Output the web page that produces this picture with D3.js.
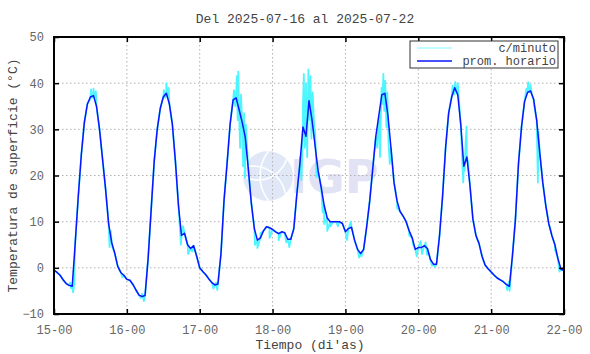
<!DOCTYPE html>
<html>
<head>
<meta charset="utf-8">
<script src="https://cdn.jsdelivr.net/npm/d3@7"></script>
<style>
  body { margin: 0; background: #fff; }
  svg text { font-family: "Liberation Mono", "DejaVu Sans Mono", monospace; }
</style>
</head>
<body>
<div id="chart"></div>
<script>
// Temperatura de superficie, promedio horario (una lista por dia, 24 valores, el ultimo con 22-00)
const dia1 = [-0.5, -1.0, -1.6, -2.6, -3.4, -3.8, -4.0, 5.5, 15.5, 24.5, 31.5, 35.5, 37.0, 37.3, 35.0, 30.0, 23.5, 17.0, 9.5, 5.5, 3.2, 0.3, -1.0, -1.6];
const dia2 = [-2.5, -2.7, -3.6, -4.8, -5.9, -6.2, -6.0, 2.0, 12.5, 23.0, 30.0, 34.5, 37.0, 37.8, 35.5, 31.0, 23.0, 13.5, 7.0, 7.5, 5.0, 4.2, 4.8, 2.5];
const dia3 = [0.0, -0.8, -1.5, -2.4, -3.2, -3.7, -3.5, 3.0, 14.5, 22.5, 31.0, 36.4, 36.8, 34.2, 31.5, 28.3, 21.5, 14.0, 8.5, 6.0, 6.5, 8.0, 8.9, 8.7];
const dia4 = [8.3, 7.8, 7.4, 7.8, 7.6, 6.2, 6.2, 8.5, 16.0, 22.5, 30.5, 28.5, 36.2, 32.0, 26.5, 21.0, 17.5, 13.5, 10.8, 10.0, 10.0, 10.0, 10.0, 9.6];
const dia5 = [7.8, 8.5, 8.8, 6.0, 4.0, 3.1, 4.0, 8.9, 14.5, 21.5, 28.4, 33.0, 37.5, 37.8, 33.0, 26.0, 18.5, 14.5, 12.2, 11.2, 10.0, 8.0, 6.5, 4.0];
const dia6 = [4.4, 4.4, 4.8, 4.2, 1.8, 0.8, 0.8, 7.0, 15.5, 26.0, 33.5, 37.0, 39.0, 37.5, 31.0, 22.0, 24.0, 18.0, 10.5, 7.0, 5.3, 2.5, 0.6, -0.2];
const dia7 = [-0.9, -1.6, -2.2, -2.6, -3.0, -3.6, -4.0, 2.5, 10.5, 22.5, 30.5, 36.0, 38.0, 38.3, 36.5, 32.0, 25.0, 18.5, 13.5, 9.5, 7.0, 5.0, 2.0, -0.3, -0.6];

// c/minuto: variaciones leidas por encima/debajo del promedio, [hora desde 15-00, valor]
const minutoExtra = [
  [5.3, -3.2], [5.6, -4.4], [6.0, -3.6], [6.3, -5.3], [6.6, -3.8],
  [11.8, 36.4], [12.2, 38.6], [12.6, 36.8], [13.0, 38.8], [13.4, 37.0], [13.8, 38.2],
  [18.3, 4.5], [18.7, 8.0], [19.2, 4.5], [22.5, -2.0],
  [28.5, -6.5], [29.0, -5.6], [29.6, -7.2], [30.0, -6.0],
  [36.2, 38.5], [36.6, 36.8], [37.0, 40.0], [37.4, 37.0], [37.8, 39.0],
  [41.8, 5.0], [42.5, 9.0], [44.2, 3.0], [45.5, 3.5],
  [52.5, -4.5], [53.4, -3.2], [53.8, -4.8],
  [58.6, 34.5], [59.3, 38.5], [59.7, 35.0], [60.2, 41.5], [60.5, 32.0], [60.7, 42.5], [61.0, 33.0],
  [61.3, 26.0], [61.6, 37.5], [62.0, 30.0], [62.3, 22.0], [62.6, 33.5], [62.9, 19.5], [63.2, 31.0],
  [66.2, 5.0], [67.0, 4.3], [68.0, 7.5], [71.0, 6.5], [74.0, 6.0], [76.5, 5.5], [77.5, 4.5],
  [80.5, 19.5], [81.0, 24.0], [81.5, 19.0], [82.0, 35.0], [82.3, 42.0], [82.6, 26.0], [83.0, 40.0],
  [83.4, 24.0], [83.8, 43.0], [84.1, 32.0], [84.5, 41.5], [84.8, 28.0], [85.2, 38.0], [86.0, 30.0], [86.5, 19.7],
  [88.5, 12.0], [89.0, 9.5], [90.0, 8.0], [91.0, 9.0], [93.5, 9.0],
  [96.5, 6.0], [97.8, 10.0], [100.5, 2.2], [101.3, 2.5],
  [106.5, 26.0], [107.0, 33.0], [107.4, 24.0], [107.9, 39.0], [108.2, 35.5], [108.5, 42.0], [108.8, 34.0],
  [109.1, 40.5], [109.5, 30.5], [109.8, 38.0], [110.2, 27.0], [110.6, 22.5],
  [113.0, 13.0], [117.0, 7.0], [118.3, 5.0],
  [119.5, 2.5], [120.8, 5.8], [121.2, 3.0], [122.4, 5.5], [122.9, 2.8], [124.5, 0.5], [125.5, 0.2],
  [131.3, 39.5], [131.8, 37.5], [132.2, 40.3], [132.6, 38.0], [133.0, 40.0],
  [134.5, 23.0], [134.8, 18.5], [135.3, 21.0], [135.6, 27.0], [135.9, 30.6], [136.4, 23.0],
  [139.5, 6.0], [141.5, 1.5],
  [149.3, -4.8], [149.8, -3.0], [150.1, -5.0],
  [155.6, 38.8], [156.2, 40.2], [156.6, 38.0], [157.0, 39.6], [157.4, 37.5],
  [158.2, 35.0], [159.4, 18.5], [159.6, 29.5],
  [163.5, 8.5], [165.0, 4.0], [166.5, -0.8]
];

const diasEtiquetas = ["15-00", "16-00", "17-00", "18-00", "19-00", "20-00", "21-00", "22-00"];
const yTicks = [-10, 0, 10, 20, 30, 40, 50];

const W = 590, H = 354;
const margin = { top: 37, right: 26, bottom: 40, left: 54 };

const horario = [dia1, dia2, dia3, dia4, dia5, dia6, dia7].flat().map((v, i) => [i, v]);
const minuto = horario.concat(minutoExtra).sort((a, b) => a[0] - b[0]);

const svg = d3.select("#chart").append("svg")
  .attr("width", W).attr("height", H);

const x = d3.scaleLinear().domain([0, 168]).range([margin.left, W - margin.right]);
const y = d3.scaleLinear().domain([-10, 50]).range([H - margin.bottom, margin.top]);

// marca de agua IGP
svg.append("clipPath").attr("id", "wmclip")
  .append("circle").attr("cx", 268).attr("cy", 176).attr("r", 25);
const wm = svg.append("g");
wm.append("circle").attr("cx", 268).attr("cy", 176).attr("r", 25).attr("fill", "#e0e8f8");
[[258, 150, 30], [252, 200, 34], [300, 176, 40]].forEach(([cx, cy, r]) => {
  wm.append("circle").attr("cx", cx).attr("cy", cy).attr("r", r)
    .attr("fill", "none").attr("stroke", "#fff").attr("stroke-width", 1.5)
    .attr("clip-path", "url(#wmclip)");
});
wm.append("text").attr("x", 290).attr("y", 193)
  .style("font-family", "'DejaVu Sans', sans-serif").style("font-weight", "bold")
  .style("font-size", "46px").attr("fill", "#e2e2f5").text("IGP");

// rejilla punteada
svg.append("g").selectAll("line").data(d3.range(1, 7)).join("line")
  .attr("x1", d => x(d * 24)).attr("x2", d => x(d * 24))
  .attr("y1", y(50)).attr("y2", y(-10))
  .attr("stroke", "#b0b0b0").attr("stroke-dasharray", "1.5,2.5");
svg.append("g").selectAll("line").data(yTicks.slice(1, -1)).join("line")
  .attr("x1", x(0)).attr("x2", x(168))
  .attr("y1", d => y(d)).attr("y2", d => y(d))
  .attr("stroke", "#b0b0b0").attr("stroke-dasharray", "1.5,2.5");

// series
const line = d3.line().x(d => x(d[0])).y(d => y(d[1]));
svg.append("path").datum(minuto)
  .attr("d", line).attr("fill", "none")
  .attr("stroke", "#4df6ff").attr("stroke-width", 1.8).attr("stroke-linejoin", "round");
svg.append("path").datum(horario)
  .attr("d", line).attr("fill", "none")
  .attr("stroke", "#0a14ff").attr("stroke-width", 1.5).attr("stroke-linejoin", "round");

// ejes
const tickLen = 5;
const xAxisB = d3.axisBottom(x).tickValues(d3.range(0, 169, 24))
  .tickFormat((d, i) => diasEtiquetas[i]).tickSizeInner(-tickLen).tickSizeOuter(0).tickPadding(11);
const xAxisT = d3.axisTop(x).tickValues(d3.range(0, 169, 24))
  .tickFormat("").tickSizeInner(-tickLen).tickSizeOuter(0);
const yAxisL = d3.axisLeft(y).tickValues(yTicks)
  .tickSizeInner(-tickLen).tickSizeOuter(0).tickPadding(10);
const yAxisR = d3.axisRight(y).tickValues(yTicks)
  .tickFormat("").tickSizeInner(-tickLen).tickSizeOuter(0);

function estilo(g) {
  g.select(".domain").remove();
  g.selectAll("line").attr("stroke", "#000").attr("stroke-width", 1.5);
  g.selectAll("text").attr("fill", "#666").style("font-size", "12px")
    .style("font-family", "'Liberation Mono', monospace");
}
svg.append("g").attr("transform", `translate(0,${y(-10)})`).call(xAxisB).call(estilo);
svg.append("g").attr("transform", `translate(0,${y(50)})`).call(xAxisT).call(estilo);
svg.append("g").attr("transform", `translate(${x(0)},0)`).call(yAxisL).call(estilo);
svg.append("g").attr("transform", `translate(${x(168)},0)`).call(yAxisR).call(estilo);

svg.append("rect")
  .attr("x", x(0)).attr("y", y(50))
  .attr("width", x(168) - x(0)).attr("height", y(-10) - y(50))
  .attr("fill", "none").attr("stroke", "#000").attr("stroke-width", 2);

// leyenda
const leyenda = [["c/minuto", "#7ffaff"], ["prom. horario", "#0a14ff"]];
const lg = svg.append("g");
lg.append("rect").attr("x", 410).attr("y", 41).attr("width", 148).attr("height", 27)
  .attr("fill", "#fff").attr("stroke", "#333").attr("stroke-width", 1);
leyenda.forEach(([t, c], i) => {
  lg.append("line").attr("x1", 417).attr("x2", 452)
    .attr("y1", 48 + i * 13).attr("y2", 48 + i * 13)
    .attr("stroke", c).attr("stroke-width", i ? 1.5 : 1);
  lg.append("text").attr("x", 556).attr("y", 52 + i * 13)
    .attr("text-anchor", "end").attr("fill", "#444")
    .style("font-size", "12px").text(t);
});

// titulos
svg.append("text").attr("x", 305).attr("y", 23).attr("text-anchor", "middle")
  .attr("fill", "#444").style("font-size", "13px").text("Del 2025-07-16 al 2025-07-22");
svg.append("text").attr("x", 310).attr("y", 349).attr("text-anchor", "middle")
  .attr("fill", "#444").style("font-size", "13px").text("Tiempo (di'as)");
svg.append("text")
  .attr("transform", `translate(17,${(y(50) + y(-10)) / 2}) rotate(-90)`)
  .attr("text-anchor", "middle").attr("fill", "#444")
  .style("font-size", "13px").text("Temperatura de superficie (°C)");
</script>
</body>
</html>
